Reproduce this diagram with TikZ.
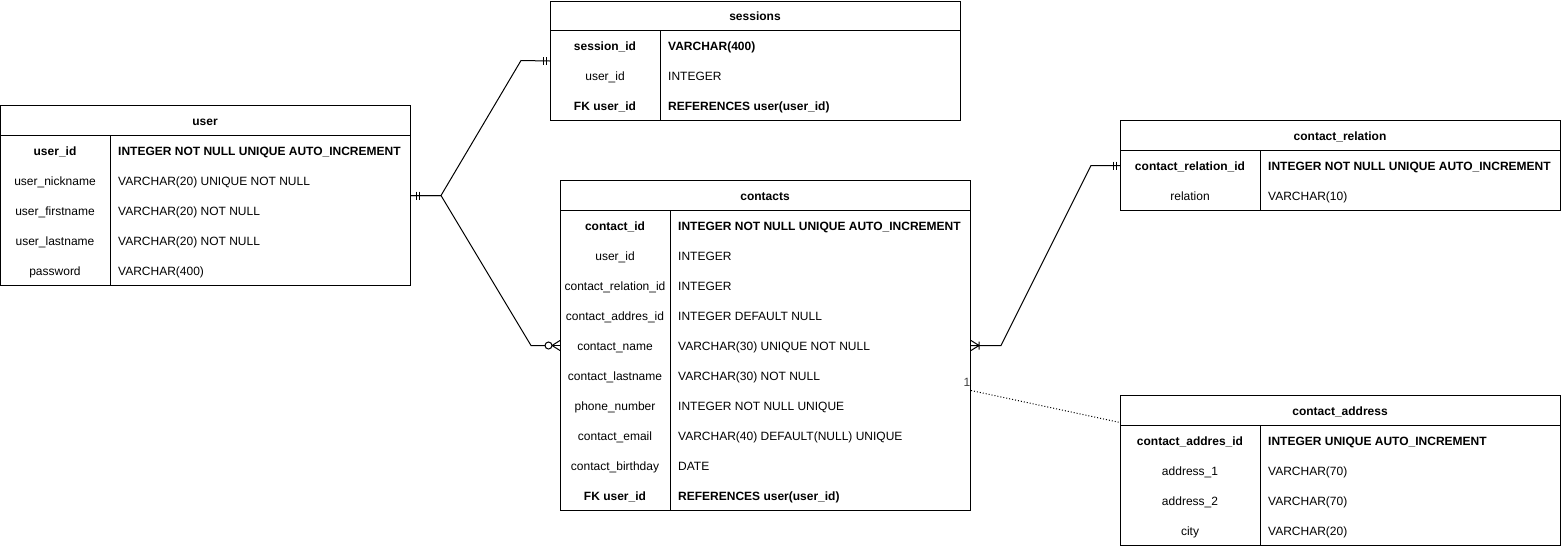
\documentclass[tikz,border=0pt]{standalone}
\usepackage{fontspec}
\setmainfont{Liberation Sans}
\newcommand\erow[6]{%
  \node[lcell] (#1l) at (#2,#4) {#5};
  \node[rcell] (#1r) at (#3,#4) {#6};}
\begin{document}
\begin{tikzpicture}[x=1pt,y=-1pt,
  font=\fontsize{12}{14}\selectfont,
  tbl/.style={draw, line width=1pt, inner sep=0pt, anchor=north west},
  cellbase/.style={inner sep=0pt, text height=8.6pt, text depth=2.6pt, yshift=-2pt},
  lcell/.style={cellbase, anchor=center},
  rcell/.style={cellbase, anchor=west},
  ttl/.style={cellbase, anchor=center, font=\fontsize{12}{14}\selectfont\bfseries},
  conn/.style={line width=1pt},
  ermark/.style={line width=1pt}]
\useasboundingbox (0,0) rectangle (1561,547);
\fill[white] (0,0) rectangle (1561,547);

% ---------- user ----------
\node[tbl, minimum width=410pt, minimum height=180pt] (user) at (0,105) {};
\draw[line width=1pt] (0,135) -- (410,135) (110,135) -- (110,285);
\node[ttl] (usert) at (205,120) {user};
\erow{u1}{55}{118}{150}{\textbf{user\_id}}{\textbf{INTEGER NOT NULL UNIQUE AUTO\_INCREMENT}}
\erow{u2}{55}{118}{180}{user\_nickname}{VARCHAR(20) UNIQUE NOT NULL}
\erow{u3}{55}{118}{210}{user\_firstname}{VARCHAR(20) NOT NULL}
\erow{u4}{55}{118}{240}{user\_lastname}{VARCHAR(20) NOT NULL}
\erow{u5}{55}{118}{270}{password}{VARCHAR(400)}

% ---------- sessions ----------
\node[tbl, minimum width=410pt, minimum height=119pt] (sess) at (550,1) {};
\draw[line width=1pt] (550,30) -- (960,30) (660,30) -- (660,120);
\node[ttl] (sesst) at (755,15.5) {sessions};
\erow{s1}{605}{668}{45}{\textbf{session\_id}}{\textbf{VARCHAR(400)}}
\erow{s2}{605}{668}{75}{user\_id}{INTEGER}
\erow{s3}{605}{668}{105}{\textbf{FK user\_id}}{\textbf{REFERENCES user(user\_id)}}

% ---------- contacts ----------
\node[tbl, minimum width=410pt, minimum height=330pt] (cont) at (560,180) {};
\draw[line width=1pt] (560,210) -- (970,210) (670,210) -- (670,510);
\node[ttl] (contt) at (765,195) {contacts};
\erow{c1}{615}{678}{225}{\textbf{contact\_id}}{\textbf{INTEGER NOT NULL UNIQUE AUTO\_INCREMENT}}
\erow{c2}{615}{678}{255}{user\_id}{INTEGER}
\erow{c3}{615}{678}{285}{contact\_relation\_id}{INTEGER}
\erow{c4}{615}{678}{315}{contact\_addres\_id}{INTEGER DEFAULT NULL}
\erow{c5}{615}{678}{345}{contact\_name}{VARCHAR(30) UNIQUE NOT NULL}
\erow{c6}{615}{678}{375}{contact\_lastname}{VARCHAR(30) NOT NULL}
\erow{c7}{615}{678}{405}{phone\_number}{INTEGER NOT NULL UNIQUE}
\erow{c8}{615}{678}{435}{contact\_email}{VARCHAR(40) DEFAULT(NULL) UNIQUE}
\erow{c9}{615}{678}{465}{contact\_birthday}{DATE}
\erow{c10}{615}{678}{495}{\textbf{FK user\_id}}{\textbf{REFERENCES user(user\_id)}}

% ---------- contact_relation ----------
\node[tbl, minimum width=440pt, minimum height=90pt] (crel) at (1120,120) {};
\draw[line width=1pt] (1120,150) -- (1560,150) (1260,150) -- (1260,210);
\node[ttl] (crelt) at (1340,135) {contact\_relation};
\erow{r1}{1190}{1268}{165}{\textbf{contact\_relation\_id}}{\textbf{INTEGER NOT NULL UNIQUE AUTO\_INCREMENT}}
\erow{r2}{1190}{1268}{195}{relation}{VARCHAR(10)}

% ---------- contact_address ----------
\node[tbl, minimum width=440pt, minimum height=150pt] (cadr) at (1120,395) {};
\draw[line width=1pt] (1120,425) -- (1560,425) (1260,425) -- (1260,545);
\node[ttl] (cadrt) at (1340,410) {contact\_address};
\erow{a1}{1190}{1268}{440}{\textbf{contact\_addres\_id}}{\textbf{INTEGER UNIQUE AUTO\_INCREMENT}}
\erow{a2}{1190}{1268}{470}{address\_1}{VARCHAR(70)}
\erow{a3}{1190}{1268}{500}{address\_2}{VARCHAR(70)}
\erow{a4}{1190}{1268}{530}{city}{VARCHAR(20)}

% ---------- connectors ----------
% user -- sessions
\draw[conn] (user.east) -- ++(30,0) -- ++(80,-135) -- (sess.west);
\draw[ermark] ([xshift=5pt,yshift=4pt]user.east) -- ++(0,8)
            ([xshift=8pt,yshift=4pt]user.east) -- ++(0,8);
\draw[ermark] ([xshift=-7pt,yshift=4pt]sess.west) -- ++(0,8)
            ([xshift=-4pt,yshift=4pt]sess.west) -- ++(0,8);
% user -- contacts
\draw[conn] (user.east) -- ++(30,0) -- ++(90,150) -- ([xshift=-15pt]cont.west);
\draw[conn] ([xshift=-8pt]cont.west) -- (cont.west);
\draw[ermark] ([xshift=-11.5pt]cont.west) circle[radius=3.5pt];
\draw[ermark] ([xshift=-8pt]cont.west) -- ([yshift=5pt]cont.west)
            ([xshift=-8pt]cont.west) -- ([yshift=-5pt]cont.west);
% contacts -- contact_relation
\draw[conn] (cont.east) -- ++(30,0) -- ++(90,-180) -- (crel.west);
\draw[ermark] ([xshift=8pt]cont.east) -- ([yshift=5pt]cont.east)
            ([xshift=8pt]cont.east) -- ([yshift=-5pt]cont.east)
            ([xshift=8pt,yshift=4pt]cont.east) -- ++(0,8);
\draw[ermark] ([xshift=-7pt,yshift=4pt]crel.west) -- ++(0,8)
            ([xshift=-4pt,yshift=4pt]crel.west) -- ++(0,8);
% contacts .. contact_address
\draw[line width=1pt, dotted] ([yshift=-45pt]cont.east) -- ([yshift=48pt]cadr.west);
\node[anchor=center, inner sep=0pt, text=black!75] (one) at (967,382) {1};
\end{tikzpicture}
\end{document}
